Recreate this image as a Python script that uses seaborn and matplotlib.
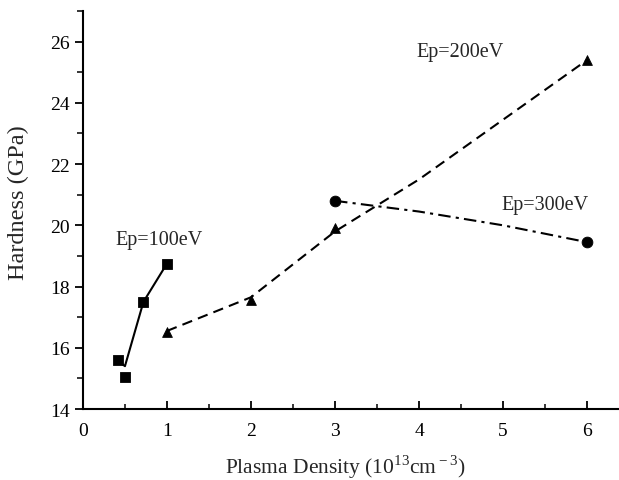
import matplotlib
matplotlib.use("Agg")
import matplotlib.pyplot as plt
import seaborn as sns
import pandas as pd
from matplotlib.ticker import MultipleLocator

sns.set_style("ticks")
plt.rcParams['font.family'] = ['Liberation Serif', 'DejaVu Serif']
plt.rcParams['mathtext.fontset'] = 'custom'
plt.rcParams['mathtext.rm'] = 'Liberation Serif'

# Data
x100 = [0.42, 0.50, 0.72, 1.0]
y100 = [15.6, 15.05, 17.5, 18.75]
fit100_x = [0.45, 0.50, 0.72, 1.0]
fit100_y = [15.5, 15.4, 17.5, 18.75]

x200 = [1.0, 2.0, 3.0, 6.0]
y200 = [16.5, 17.55, 19.9, 25.4]
fit200_x = [1.0, 2.0, 3.0, 4.0, 6.0]
fit200_y = [16.55, 17.65, 19.8, 21.5, 25.4]

x300 = [3.0, 6.0]
y300 = [20.8, 19.45]
fit300_x = [3.0, 4.0, 5.0, 6.0]
fit300_y = [20.8, 20.45, 20.0, 19.45]

labels = ["Ep=100eV", "Ep=200eV", "Ep=300eV"]

fig = plt.figure(figsize=(6.19, 4.81), dpi=100)
ax = fig.add_axes([0.134, 0.1476, 0.866, 0.8274])

sns.lineplot(x=fit100_x, y=fit100_y, ax=ax, color='black', lw=1.5, sort=False)
sns.lineplot(x=fit200_x, y=fit200_y, ax=ax, color='black', lw=1.5, sort=False,
             linestyle=(0, (5, 3)))
sns.lineplot(x=fit300_x, y=fit300_y, ax=ax, color='black', lw=1.5, sort=False,
             linestyle=(0, (6, 2.5, 1.5, 2.5)))

sns.scatterplot(x=x100, y=y100, ax=ax, marker='s', s=55, color='black', edgecolor='black', zorder=5)
sns.scatterplot(x=x200, y=y200, ax=ax, marker='^', s=50, color='black', edgecolor='black', zorder=5)
sns.scatterplot(x=x300, y=y300, ax=ax, marker='o', s=60, color='black', edgecolor='black', zorder=5)

ax.text(0.9, 19.55, labels[0], fontsize=14.5, ha='center', va='center')
ax.text(4.49, 25.67, labels[1], fontsize=14.5, ha='center', va='center')
ax.text(5.5, 20.68, labels[2], fontsize=14.5, ha='center', va='center')

ax.set_xlim(0, 6.38)
ax.set_ylim(14, 27)
ax.xaxis.set_major_locator(MultipleLocator(1))
ax.xaxis.set_minor_locator(MultipleLocator(0.5))
ax.yaxis.set_major_locator(MultipleLocator(2))
ax.yaxis.set_minor_locator(MultipleLocator(1))

ax.tick_params(axis='x', which='major', direction='in', length=6, width=1.3, labelsize=14, pad=9)
ax.tick_params(axis='x', which='minor', direction='in', length=3.5, width=1.3)
ax.tick_params(axis='y', which='major', direction='out', length=6, width=1.3, labelsize=14)
ax.tick_params(axis='y', which='minor', direction='out', length=4, width=1.3)

for s in ['top', 'right']:
    ax.spines[s].set_visible(False)
for s in ['left', 'bottom']:
    ax.spines[s].set_linewidth(1.5)
    ax.spines[s].set_color('black')
ax.tick_params(colors='black')

ax.set_xlabel(r"Plasma Density (10$^{13}$cm$^{\,\mathrm{-\,3}}$)", fontsize=15.5)
ax.xaxis.set_label_coords(0.49, -0.108)
ax.set_ylabel("Hardness (GPa)", fontsize=17.5)
ax.yaxis.set_label_coords(-0.1, 0.52)

fig.savefig("out.png", dpi=100)
